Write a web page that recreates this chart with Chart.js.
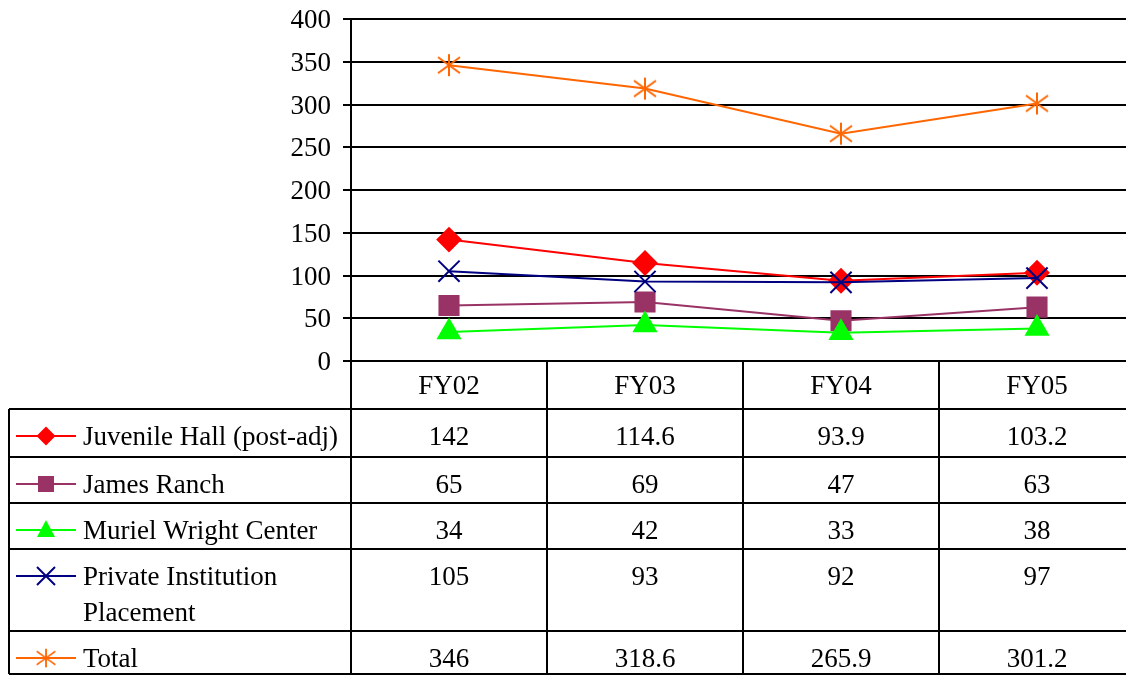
<!DOCTYPE html>
<html>
<head>
<meta charset="utf-8">
<script src="https://cdn.jsdelivr.net/npm/chart.js@4/dist/chart.umd.min.js"></script>
<style>
  html, body { margin: 0; padding: 0; background: #ffffff; }
  #wrap { width: 1126px; height: 675px; position: relative; }
</style>
</head>
<body>
<div id="wrap"><canvas id="c" width="1126" height="675"></canvas></div>
<script>
// Fiscal years shown as table columns
const years = ['FY02', 'FY03', 'FY04', 'FY05'];

// Series values per fiscal year
const juvenileHall = [142, 114.6, 93.9, 103.2];
const jamesRanch = [65, 69, 47, 63];
const murielWright = [34, 42, 33, 38];
const privatePlacement = [105, 93, 92, 97];
const total = [346, 318.6, 265.9, 301.2];

// Row labels of the data table (multi-line where wrapped)
const seriesLabels = [
  ['Juvenile Hall (post-adj)'],
  ['James Ranch'],
  ['Muriel Wright Center'],
  ['Private Institution', 'Placement'],
  ['Total']
];

// Value-axis ticks
const yTicks = [0, 50, 100, 150, 200, 250, 300, 350, 400];

const fmt = v => String(v);

const FONT = '"Liberation Serif", "Times New Roman", serif';

// Asterisk marker used for the Total series
function makeAsterisk(color) {
  const c = document.createElement('canvas');
  c.width = 26; c.height = 26;
  const g = c.getContext('2d');
  g.strokeStyle = color;
  g.lineWidth = 2;
  g.beginPath();
  g.moveTo(13, 2); g.lineTo(13, 24);
  g.moveTo(2, 5); g.lineTo(24, 21);
  g.moveTo(2, 21); g.lineTo(24, 5);
  g.stroke();
  return c;
}
const asterisk = makeAsterisk('#FF6600');

const seriesStyles = [
  { color: '#FF0000', pointStyle: 'rectRot', radius: 11.5, order: 4 },
  { color: '#993366', pointStyle: 'rect', radius: 13.5, order: 3 },
  { color: '#00FF00', pointStyle: 'triangle', radius: 12.5, order: 2 },
  { color: '#000080', pointStyle: 'crossRot', radius: 15, order: 1 },
  { color: '#FF6600', pointStyle: asterisk, radius: 13, order: 0 }
];
const seriesValues = [juvenileHall, jamesRanch, murielWright, privatePlacement, total];

const datasets = seriesValues.map((vals, si) => {
  const st = seriesStyles[si];
  return {
    label: seriesLabels[si].join(' '),
    data: vals.map((v, i) => ({ x: i, y: v })),
    borderColor: st.color,
    backgroundColor: st.color,
    borderWidth: 2,
    pointStyle: st.pointStyle,
    pointRadius: st.radius,
    pointHoverRadius: st.radius,
    pointBorderWidth: 2,
    pointBackgroundColor: st.color,
    pointBorderColor: st.color,
    order: st.order,
    tension: 0
  };
});

// Draw a legend key (line + marker) in the table
function drawKey(ctx, si, x1, x2, y) {
  const st = seriesStyles[si];
  const cx = (x1 + x2) / 2;
  ctx.save();
  ctx.strokeStyle = st.color;
  ctx.fillStyle = st.color;
  ctx.lineWidth = 2;
  ctx.beginPath();
  ctx.moveTo(x1, y); ctx.lineTo(x2, y);
  ctx.stroke();
  ctx.beginPath();
  if (si === 0) {
    const r = 9.5;
    ctx.moveTo(cx, y - r); ctx.lineTo(cx + r, y); ctx.lineTo(cx, y + r); ctx.lineTo(cx - r, y);
    ctx.closePath(); ctx.fill();
  } else if (si === 1) {
    ctx.fillRect(cx - 8, y - 8, 16, 16);
  } else if (si === 2) {
    ctx.moveTo(cx, y - 10); ctx.lineTo(cx + 9, y + 7); ctx.lineTo(cx - 9, y + 7);
    ctx.closePath(); ctx.fill();
  } else if (si === 3) {
    const r = 9;
    ctx.moveTo(cx - r, y - r); ctx.lineTo(cx + r, y + r);
    ctx.moveTo(cx - r, y + r); ctx.lineTo(cx + r, y - r);
    ctx.stroke();
  } else {
    ctx.drawImage(asterisk, cx - 11, y - 11, 22, 22);
  }
  ctx.restore();
}

// Data table under the plot, aligned to the x scale
const dataTable = {
  id: 'dataTable',
  afterDraw(chart) {
    const ctx = chart.ctx;
    const xs = chart.scales.x;
    const area = chart.chartArea;
    const tableLeft = 9;
    const tableBottom = 674;
    const headerTop = area.bottom;
    const rowLines = [409, 457, 503, 549, 631];
    const colEdges = years.map((_, i) => xs.getPixelForValue(i - 0.5));

    ctx.save();
    ctx.strokeStyle = '#000000';
    ctx.lineWidth = 2;
    ctx.beginPath();
    rowLines.concat([tableBottom]).forEach(y => {
      ctx.moveTo(tableLeft, y); ctx.lineTo(chart.width, y);
    });
    ctx.moveTo(tableLeft, rowLines[0]); ctx.lineTo(tableLeft, tableBottom);
    colEdges.forEach(x => { ctx.moveTo(x, headerTop); ctx.lineTo(x, tableBottom); });
    ctx.stroke();

    ctx.fillStyle = '#000000';
    ctx.font = '27px ' + FONT;
    ctx.textBaseline = 'alphabetic';
    ctx.textAlign = 'center';
    years.forEach((yr, i) => {
      ctx.fillText(yr, xs.getPixelForValue(i), headerTop + 33);
    });
    seriesValues.forEach((vals, si) => {
      const top = rowLines[si];
      const base = top + 36;
      ctx.textAlign = 'center';
      vals.forEach((v, i) => ctx.fillText(fmt(v), xs.getPixelForValue(i), base));
      ctx.textAlign = 'left';
      seriesLabels[si].forEach((ln, li) => ctx.fillText(ln, 83, base + li * 36));
      drawKey(ctx, si, 16, 76, base - 9);
    });
    ctx.restore();
  }
};

new Chart(document.getElementById('c'), {
  type: 'line',
  data: { datasets },
  options: {
    responsive: false,
    animation: false,
    devicePixelRatio: 1,
    layout: { autoPadding: false, padding: { left: 0, right: 0, top: 19, bottom: 314 } },
    plugins: { legend: { display: false }, tooltip: { enabled: false } },
    scales: {
      x: {
        type: 'linear',
        display: false,
        min: -0.5,
        max: -0.5 + 775 / 196
      },
      y: {
        type: 'linear',
        min: yTicks[0],
        max: yTicks[yTicks.length - 1],
        afterFit(scale) {
          scale.width = 351;
          scale.paddingTop = 0;
          scale.paddingBottom = 0;
        },
        afterBuildTicks(scale) { scale.ticks = yTicks.map(v => ({ value: v })); },
        ticks: {
          color: '#000000',
          font: { family: FONT, size: 27 },
          padding: 12,
          labelOffset: 2
        },
        grid: {
          color: '#000000',
          lineWidth: 2,
          tickLength: 8,
          tickColor: '#000000',
          drawOnChartArea: true
        },
        border: { display: true, color: '#000000', width: 2 }
      }
    }
  },
  plugins: [dataTable]
});
</script>
</body>
</html>
